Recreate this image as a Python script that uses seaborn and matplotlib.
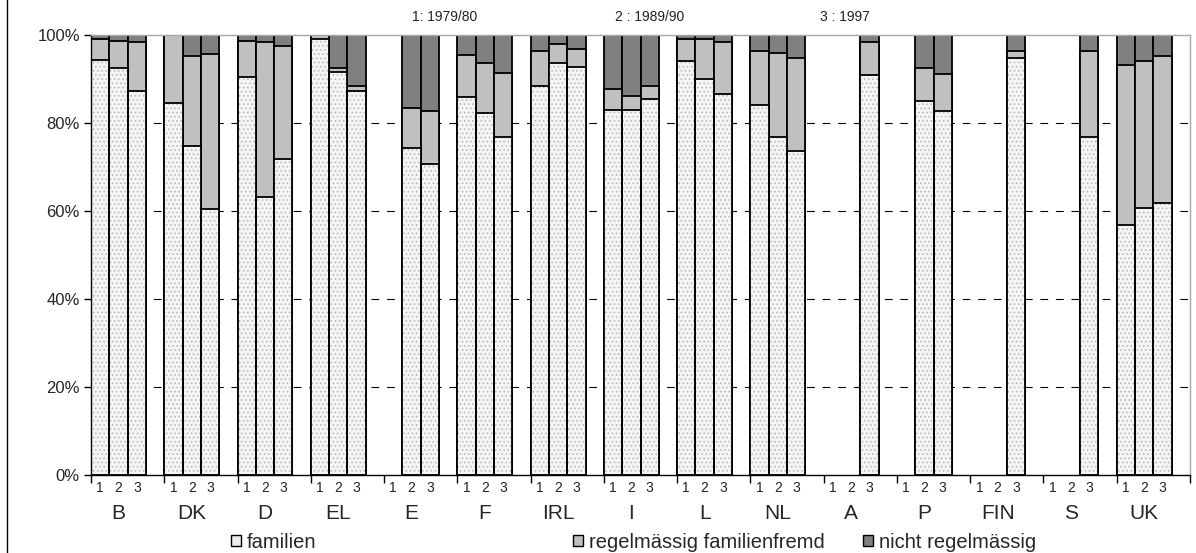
import numpy as np
import pandas as pd
import matplotlib
matplotlib.use('Agg')
import matplotlib.pyplot as plt
from matplotlib.patches import Patch
from matplotlib.lines import Line2D
import seaborn as sns

# values (percent), periods 1 / 2 / 3
countries = ['B', 'DK', 'D', 'EL', 'E', 'F', 'IRL', 'I', 'L', 'NL', 'A', 'P', 'FIN', 'S', 'UK']
periods = ['1', '2', '3']
period_notes = ['1: 1979/80', '2 : 1989/90', '3 : 1997']
nan = np.nan

familien = [
    [94.3, 92.4, 87.3], [84.6, 74.8, 60.5], [90.5, 63.2, 71.8], [99.1, 91.7, 87.3],
    [nan, 74.4, 70.6], [85.8, 82.2, 76.8], [88.4, 93.6, 92.8], [83.0, 83.0, 85.4],
    [94.2, 90.0, 86.6], [84.1, 76.9, 73.6], [nan, nan, 90.8], [nan, 84.9, 82.7],
    [nan, nan, 94.8], [nan, nan, 76.9], [56.9, 60.6, 61.8],
]
regelmaessig = [
    [4.8, 6.3, 11.0], [15.4, 20.4, 35.2], [8.2, 35.1, 25.6], [0.9, 0.7, 1.1],
    [nan, 8.9, 12.1], [9.7, 11.4, 14.6], [8.0, 4.3, 4.1], [4.7, 3.1, 3.0],
    [4.9, 9.1, 11.7], [12.3, 19.1, 21.1], [nan, nan, 7.5], [nan, 7.5, 8.4],
    [nan, nan, 1.6], [nan, nan, 19.5], [36.2, 33.5, 33.5],
]
nicht = [
    [0.9, 1.3, 1.7], [0.0, 4.8, 4.3], [1.3, 1.7, 2.6], [0.0, 7.6, 11.6],
    [nan, 16.7, 17.3], [4.5, 6.4, 8.6], [3.6, 2.1, 3.1], [12.3, 13.9, 11.6],
    [0.9, 0.9, 1.7], [3.6, 4.0, 5.3], [nan, nan, 1.7], [nan, 7.6, 8.9],
    [nan, nan, 3.6], [nan, nan, 3.6], [6.9, 5.9, 4.7],
]
legend_labels = ['familien', 'regelmässig familienfremd', 'nicht regelmässig']

# long table, one row per bar
rows = []
for i, c in enumerate(countries):
    for k, p in enumerate(periods):
        f = familien[i][k]
        if np.isnan(f):
            continue
        r = regelmaessig[i][k]
        n = nicht[i][k]
        rows.append({'slot': c + p, 'fam': f, 'mid': f + r, 'total': f + r + n})
df = pd.DataFrame(rows)
# each country gets 3 slots + one empty slot as gap
order = [c + s for c in countries for s in periods + ['_']]

sns.set_theme(style='white')
plt.rcParams['font.family'] = ['Liberation Sans', 'DejaVu Sans']
plt.rcParams['hatch.linewidth'] = 0.6

W, H = 1196, 553
fig = plt.figure(figsize=(W / 100, H / 100), dpi=100)
ax = fig.add_axes([91 / W, (H - 475) / H, (1190 - 91) / W, 440 / H])

DARK = '#808080'
MID = '#c0c0c0'
LIGHT = '#f4f4f4'
lw = 1.3
common = dict(data=df, x='slot', order=order, width=1.0, errorbar=None,
              saturation=1, ax=ax)

sns.barplot(y='total', color=DARK, edgecolor='black', linewidth=lw, **common)
sns.barplot(y='mid', color=MID, edgecolor='black', linewidth=lw, **common)
sns.barplot(y='fam', color=LIGHT, edgecolor='#b4b4b4', linewidth=0, hatch='....', **common)
sns.barplot(y='fam', fill=False, color='black', edgecolor='black', linewidth=lw, **common)

ax.set_xlim(-0.5, len(order) - 0.5)
ax.set_ylim(0, 100)
ax.set_xlabel('')
ax.set_ylabel('')

# y axis
yt = [0, 20, 40, 60, 80, 100]
ax.set_yticks(yt)
ax.set_yticklabels([f'{v}%' for v in yt], fontsize=12)
ax.tick_params(axis='y', direction='out', length=5, width=1, color='black', pad=3, left=True)
for v in yt[1:-1]:
    ax.axhline(v, color='black', lw=0.8, ls=(0, (7, 7)), zorder=0.5)

# x axis: period numbers under each bar, ticks between countries
pos = [i for i, s in enumerate(order) if not s.endswith('_')]
ax.set_xticks(pos)
ax.set_xticklabels([s[-1] for s in order if not s.endswith('_')], fontsize=10)
ax.tick_params(axis='x', which='major', length=0, pad=4, labelcolor='#222222')
ax.set_xticks([4 * i - 0.5 for i in range(len(countries) + 1)], minor=True)
ax.tick_params(axis='x', which='minor', direction='out', length=6, width=1,
               color='black', bottom=True)
for i, c in enumerate(countries):
    ax.text(4 * i + 1, -0.087, c, transform=ax.get_xaxis_transform(),
            ha='center', va='center', fontsize=15)

for side in ['left', 'bottom']:
    ax.spines[side].set_color('black')
    ax.spines[side].set_linewidth(1)
for side in ['top', 'right']:
    ax.spines[side].set_color('#a6a6a6')
    ax.spines[side].set_linewidth(1)

# period notes above the plot
for txt, x in zip(period_notes, [445, 650, 845]):
    fig.text(x / W, (H - 17) / H, txt, ha='center', va='center', fontsize=10, color='#222222')

# legend, three entries spread along the bottom
handles = [Patch(facecolor='#ececec', edgecolor='black', lw=1),
           Patch(facecolor=MID, edgecolor='black', lw=1),
           Patch(facecolor=DARK, edgecolor='black', lw=1)]
for h, lab, x in zip(handles, legend_labels, [231, 573, 863]):
    lg = fig.legend([h], [lab], loc='center left', bbox_to_anchor=(x / W, 11 / H),
                    frameon=False, fontsize=14.5, handlelength=0.5, handleheight=0.5,
                    handletextpad=0.3, borderpad=0, borderaxespad=0)

# chart border on the left
fig.add_artist(Line2D([7 / W, 7 / W], [0, 1], color='black', lw=1))

fig.savefig('out.png', dpi=100)
